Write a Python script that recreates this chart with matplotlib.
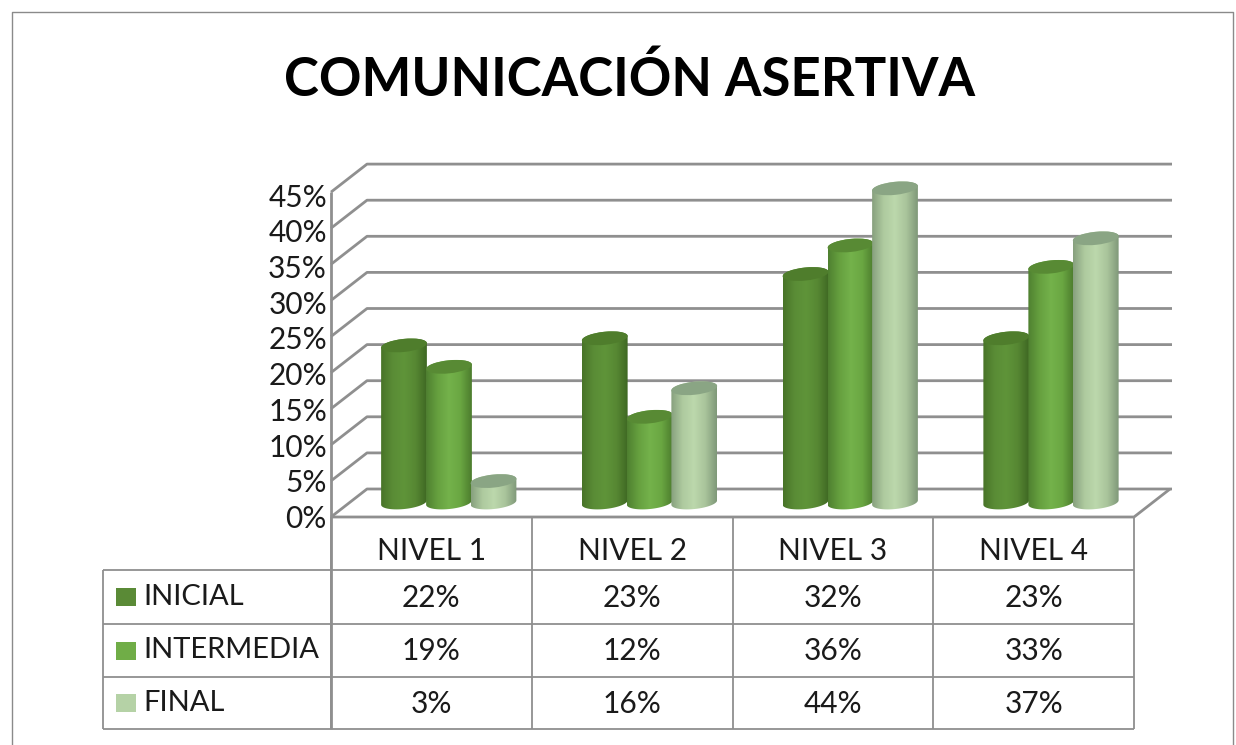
#comunicacion asertiva, cylinders drawn by hand in a pixel sized axes
import matplotlib
matplotlib.use('Agg')
import matplotlib.pyplot as plt
import numpy as np
from matplotlib.colors import LinearSegmentedColormap
from matplotlib.patches import Ellipse, PathPatch, Rectangle
from matplotlib.path import Path

plt.rcParams['font.family'] = ['Lato', 'DejaVu Sans']

#data
title = 'COMUNICACIÓN ASERTIVA'
niveles = ['NIVEL 1', 'NIVEL 2', 'NIVEL 3', 'NIVEL 4']
series = ['INICIAL', 'INTERMEDIA', 'FINAL']
inicial = [22, 23, 32, 23]
intermedia = [19, 12, 36, 33]
final = [3, 16, 44, 37]
ticks = [0, 5, 10, 15, 20, 25, 30, 35, 40, 45]

valores = [inicial, intermedia, final]
colores = ['#5a8a36', '#70ad47', '#b5d2a6']
tapas = ['#4f7d2c', '#588a34', '#8aa584']
gradientes = [['#487428', '#5a8c36', '#5f9439', '#578833', '#3f6823'],
              ['#4f8030', '#66a03f', '#74b24b', '#6aa742', '#4c7c2d'],
              ['#87a07e', '#aeca9f', '#bcd8ac', '#a9c49b', '#7f9878']]

#geometry in pixels
gris = '#8f8f8f'
x_front, x_back, x_right = 331, 367, 1134
y_front, y_back = 517, 489
k = 7.22                       #pixels for 1% on the walls
k_bar = 7.14                   #pixels for 1% on the cylinders
col_w = 200.75
x_cols = [x_front + i * col_w for i in range(5)]
y_rows = [570, 624, 677, 729]
x_table = 103
bar_w = 46
bar_offset = [73, 118, 162.5]
base_y = 502.5

fig = plt.figure(figsize=(12.36, 7.45), dpi=100)
ax = fig.add_axes([0, 0, 1, 1])
ax.axis('off')


def line(xs, ys, lw=1.5, c=gris):
    ax.plot(xs, ys, color=c, lw=lw, solid_capstyle='butt', zorder=1)


#outer frame
line([12, 12, 1233, 1233], [745, 12, 12, 745], lw=1.0, c='#8a8a8a')

#walls and floor
for t in ticks:
    dy = t * k
    line([x_front, x_back, x_back + x_right - x_front + 2],
         [y_front - dy, y_back - dy, y_back - dy], lw=2.0)
line([x_front, x_right, x_right + 36], [y_front, y_front, y_back], lw=2.0)
line([x_front, x_front], [y_front - max(ticks) * k, y_rows[-1]], lw=2.0)

#cylinders
ang = np.radians(-6)
for j, vals in enumerate(valores):
    cmap = LinearSegmentedColormap.from_list('c%d' % j, gradientes[j])
    for i, v in enumerate(vals):
        cx = x_cols[i] + bar_offset[j]
        top = base_y - v * k_bar
        a, b = bar_w / 2, 6.5
        th = np.linspace(0, np.pi, 40)
        ex = a * np.cos(th)
        ey = b * np.sin(th)
        low_x = cx + ex * np.cos(ang) - ey * np.sin(ang)
        low_y = base_y + ex * np.sin(ang) + ey * np.cos(ang)
        th2 = np.linspace(np.pi, 2 * np.pi, 40)
        ex2 = a * np.cos(th2)
        ey2 = b * np.sin(th2)
        up_x = cx + ex2 * np.cos(ang) - ey2 * np.sin(ang)
        up_y = top + ex2 * np.sin(ang) + ey2 * np.cos(ang)
        pts = np.r_[np.c_[low_x, low_y], np.c_[up_x, up_y], [[low_x[0], low_y[0]]]]
        body = PathPatch(Path(pts), fc='none', ec='none', transform=ax.transData)
        ax.add_patch(body)
        im = ax.imshow(np.linspace(0, 1, 128).reshape(1, -1), cmap=cmap, aspect='auto',
                       extent=[cx - a, cx + a, base_y + 12, top - 12], zorder=3 + j * 0.1)
        im.set_clip_path(body)
        ax.add_patch(Ellipse((cx, top), 2 * a, 2 * b, angle=-6, fc=tapas[j], ec='none',
                             zorder=3 + j * 0.1))

#value axis labels
for t in ticks:
    ax.text(327, y_front + 2 - t * k * 0.989, '%d%%' % t, ha='right', va='center',
            fontsize=21.5, color='#1a1a1a')

#data table
for xc in x_cols:
    line([xc, xc], [y_front, y_rows[-1]], lw=1.3)
for yr in y_rows:
    line([x_table, x_cols[-1]], [yr, yr], lw=1.3)
line([x_table, x_table], [y_rows[0], y_rows[-1]], lw=1.3)

for i, n in enumerate(niveles):
    ax.text((x_cols[i] + x_cols[i + 1]) / 2, (y_front + y_rows[0]) / 2 + 8, n, ha='center',
            va='center', fontsize=21.5, color='#1a1a1a')

for j, s in enumerate(series):
    ym = (y_rows[j] + y_rows[j + 1]) / 2
    ax.add_patch(Rectangle((116, ym - 9), 20, 18, fc=colores[j], ec='none', zorder=2))
    ax.text(143, ym, s, ha='left', va='center', fontsize=21, color='#1a1a1a')
    for i, v in enumerate(valores[j]):
        ax.text((x_cols[i] + x_cols[i + 1]) / 2, ym + 1, '%d%%' % v, ha='center', va='center',
                fontsize=21.5, color='#1a1a1a')

ax.text(630, 80, title, ha='center', va='center', fontsize=38, fontweight='bold', color='black')

ax.set_xlim(0, 1236)
ax.set_ylim(745, 0)
fig.savefig('out.png', dpi=100, facecolor='white')
